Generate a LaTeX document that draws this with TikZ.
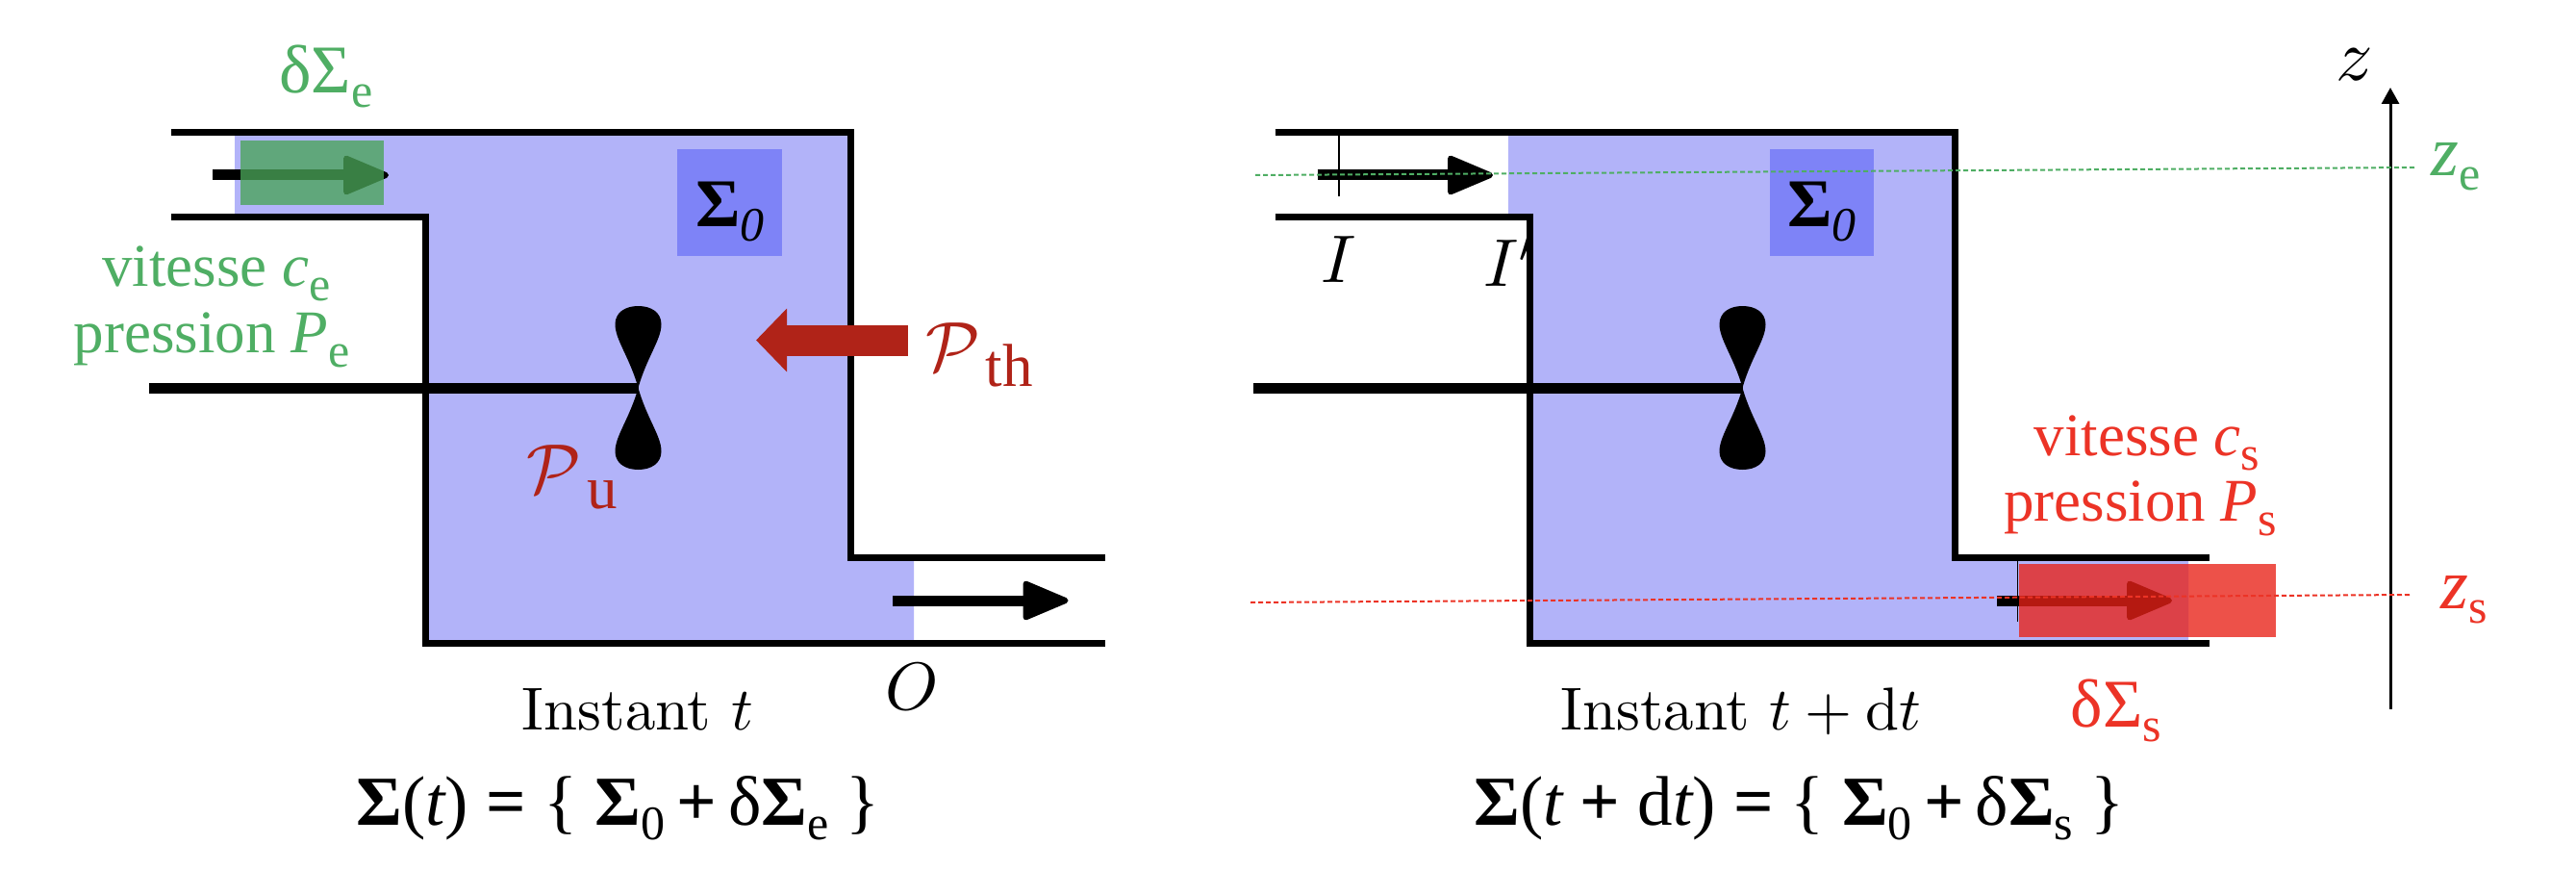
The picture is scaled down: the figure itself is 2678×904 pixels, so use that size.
\documentclass[tikz,border=0pt]{standalone}
\usepackage{fontspec}
\usepackage{graphicx}
\usetikzlibrary{arrows.meta}
\newfontfamily\cam{Liberation Serif}
\definecolor{sysblue}{HTML}{B2B3F9}
\definecolor{sigblue}{HTML}{7E83F7}
\definecolor{labgreen}{HTML}{4FAE64}
\definecolor{boxgreen}{HTML}{4AA458}
\definecolor{labred}{HTML}{EC3326}
\definecolor{boxred}{HTML}{E82117}
\definecolor{heatred}{HTML}{B02318}
\newcommand\bigfont{\fontsize{71}{71}\selectfont\cam}
\newcommand\eqfont{\fontsize{73}{73}\selectfont\cam}
\newcommand\midfont{\fontsize{63}{68}\selectfont\cam}
\newcommand\zfont{\fontsize{74}{74}\selectfont\cam}
\newcommand\lowsub[1]{\raisebox{-15pt}{\fontsize{50}{50}\selectfont #1}}
\newcommand\scrP{\scalebox{7.3}{\fontsize{10}{12}\selectfont$\mathcal{P}$}}
\newcommand\cmtxt[2]{\scalebox{#1}{\fontsize{10}{12}\selectfont #2}}
\newcommand\fan[2]{\fill[black,shift={(#1,#2)}] (0,0) .. controls (-9,-32) and (-24,-50) .. (-24,-66) .. controls (-24,-78) and (-14,-85) .. (0,-85) .. controls (14,-85) and (24,-78) .. (24,-66) .. controls (24,-50) and (9,-32) .. (0,0) .. controls (-9,32) and (-24,50) .. (-24,66) .. controls (-24,78) and (-14,85) .. (0,85) .. controls (14,85) and (24,78) .. (24,66) .. controls (24,50) and (9,32) .. (0,0) -- cycle;}
\tikzset{
  wall/.style={line width=7pt,line join=miter},
  shaft/.style={line width=11pt},
  flow/.style={line width=11pt,-{Triangle[length=52pt,width=42pt,line width=6pt,round]}},
  thin mark/.style={line width=1.5pt},
  txt/.style={inner sep=0pt,outer sep=0pt,anchor=base},
  level/.style={line width=2pt,dash pattern=on 5pt off 3pt},
}
\begin{document}
\begin{tikzpicture}[x=1pt,y=-1pt]
\useasboundingbox (0,0) rectangle (2678,904);
\fill[white] (0,0) rectangle (2678,904);

% labels partly hidden by the fluid
\node[txt] (Ip) at (1570,298) {\cmtxt{7}{$I'$}};

% fluid
\fill[sysblue] (244,138) -- (884,138) -- (884,579) -- (950,579) -- (950,668) -- (442,668) -- (442,226) -- (244,226) -- cycle;
\fill[sysblue] (1568,138) -- (2032,138) -- (2032,579) -- (2275,579) -- (2275,668) -- (1590,668) -- (1590,226) -- (1568,226) -- cycle;
\node[fill=sigblue,minimum width=109pt,minimum height=111pt,inner sep=0pt] (s0a) at (758.5,210.5) {};
\node[fill=sigblue,minimum width=108pt,minimum height=111pt,inner sep=0pt] (s0b) at (1894,210.5) {};

% walls left
\coordinate (aA) at (177.5,138); \coordinate (aB) at (884,138); \coordinate (aC) at (884,579); \coordinate (aD) at (1149,579);
\coordinate (aE) at (177.5,226); \coordinate (aF) at (442.5,226); \coordinate (aG) at (442.5,668); \coordinate (aH) at (1149,668);
\draw[wall] (aA) -- (aB) -- (aC) -- (aD);
\draw[wall] (aE) -- (aF) -- (aG) -- (aH);
% walls right
\coordinate (bA) at (1325.5,138); \coordinate (bB) at (2032,138); \coordinate (bC) at (2032,579); \coordinate (bD) at (2296.5,579);
\coordinate (bE) at (1325.5,226); \coordinate (bF) at (1590,226); \coordinate (bG) at (1590,668); \coordinate (bH) at (2296.5,668);
\draw[wall] (bA) -- (bB) -- (bC) -- (bD);
\draw[wall] (bE) -- (bF) -- (bG) -- (bH);

% shafts and fans
\coordinate (s1) at (155,403); \coordinate (f1) at (663.5,403);
\coordinate (s2) at (1303,403); \coordinate (f2) at (1811.5,403);
\draw[shaft] (s1) -- (f1);
\draw[shaft] (s2) -- (f2);
\fan{663.5}{403}
\fan{1811.5}{403}

% section marks
\coordinate (ma) at (1392,140); \coordinate (mb) at (1392,204);
\coordinate (mc) at (2097.5,582); \coordinate (md) at (2097.5,646);
\draw[thin mark] (ma) -- (mb);
\draw[thin mark] (mc) -- (md);

% flow arrows
\coordinate (a1s) at (221,182); \coordinate (a1e) at (404,182);
\coordinate (a2s) at (928,624); \coordinate (a2e) at (1110.5,624);
\coordinate (a3s) at (1369.5,182); \coordinate (a3e) at (1552,182);
\coordinate (a4s) at (2076,624); \coordinate (a4e) at (2258,624);
\draw[flow] (a1s) -- (a1e);
\draw[flow] (a2s) -- (a2e);
\draw[flow] (a3s) -- (a3e);
\draw[flow] (a4s) -- (a4e);

% transferred elements
\node[fill=boxgreen,fill opacity=.78,minimum width=148.5pt,minimum height=67pt,inner sep=0pt] (de) at (324.5,179.5) {};
\node[fill=boxred,fill opacity=.78,minimum width=267pt,minimum height=76pt,inner sep=0pt] (ds) at (2232.5,624) {};

% heat arrow
\coordinate (h1) at (943.5,353.5); \coordinate (h2) at (786,353.5);
\draw[heatred,line width=32pt,-{Triangle[length=32pt,width=64pt]}] (h1) -- (h2);

% z axis
\coordinate (z0) at (2485,737); \coordinate (z1) at (2485,91);
\draw[line width=3pt,-{Triangle[length=17pt,width=18pt]}] (z0) -- (z1);
% levels
\coordinate (le1) at (1305,182); \coordinate (le2) at (2511,174);
\coordinate (ls1) at (1300,626); \coordinate (ls2) at (2507,618);
\draw[level,labgreen] (le1) -- (le2);
\draw[level,labred] (ls1) -- (ls2);

% sigma labels
\node[txt,font=\bigfont] (t0a) at (759,236) {{\bfseries Σ}\lowsub{\itshape 0}};
\node[txt,font=\bigfont] (t0b) at (1894,236) {{\bfseries Σ}\lowsub{\itshape 0}};

% green
\node[txt,font=\bigfont,text=labgreen] (tde) at (339,97) {δΣ\lowsub{e}};
\node[txt,font=\midfont,text=labgreen] (tve) at (225,298) {vitesse {\itshape c}\lowsub{e}};
\node[txt,font=\midfont,text=labgreen] (tpe) at (220,366) {pression {\itshape P}\lowsub{e}};
\node[txt,font=\zfont,text=labgreen] (tze) at (2553,183) {{\itshape z}\lowsub{e}};
% red
\node[txt,font=\bigfont,text=labred] (tds) at (2200,755) {δΣ\lowsub{s}};
\node[txt,font=\midfont,text=labred] (tvs) at (2232,473) {vitesse {\itshape c}\lowsub{s}};
\node[txt,font=\midfont,text=labred] (tps) at (2225,541) {pression {\itshape P}\lowsub{s}};
\node[txt,font=\zfont,text=labred] (tzs) at (2562,632) {{\itshape z}\lowsub{s}};
% powers
\node[txt,text=heatred,font=\fontsize{63}{63}\selectfont\cam] (pth) at (1018,385) {\scrP\hspace{6pt}\raisebox{-16pt}{th}};
\node[txt,text=heatred,font=\fontsize{63}{63}\selectfont\cam] (pu) at (595,512) {\scrP\hspace{6pt}\raisebox{-16pt}{u}};
% letters
\node[txt] (tO) at (948,737) {\cmtxt{7}{$O$}};
\node[txt] (tI) at (1392,294) {\cmtxt{7}{$I$}};
\node[txt] (tz) at (2447.5,84) {\cmtxt{7.6}{$z$}};
% captions
\node[txt] (c1) at (663,758) {\cmtxt{6.3}{Instant $t$}};
\node[txt] (c2) at (1810,758) {\cmtxt{6.3}{Instant $t+\mathrm{d}t$}};
% equations
\node[txt,font=\eqfont] (e1) at (642.5,857) {{\bfseries Σ}({\itshape t}) {\bfseries =} \{ {\bfseries Σ}\lowsub{0}{\bfseries\,+\,}δ{\bfseries Σ}\lowsub{e} \}};
\node[txt,font=\eqfont] (e2) at (1870.5,857) {{\bfseries Σ}({\itshape t} {\bfseries +} d{\itshape t}) {\bfseries =} \{ {\bfseries Σ}\lowsub{0}{\bfseries\,+\,}δ{\bfseries Σ}\lowsub{s} \}};
\end{tikzpicture}
\end{document}
